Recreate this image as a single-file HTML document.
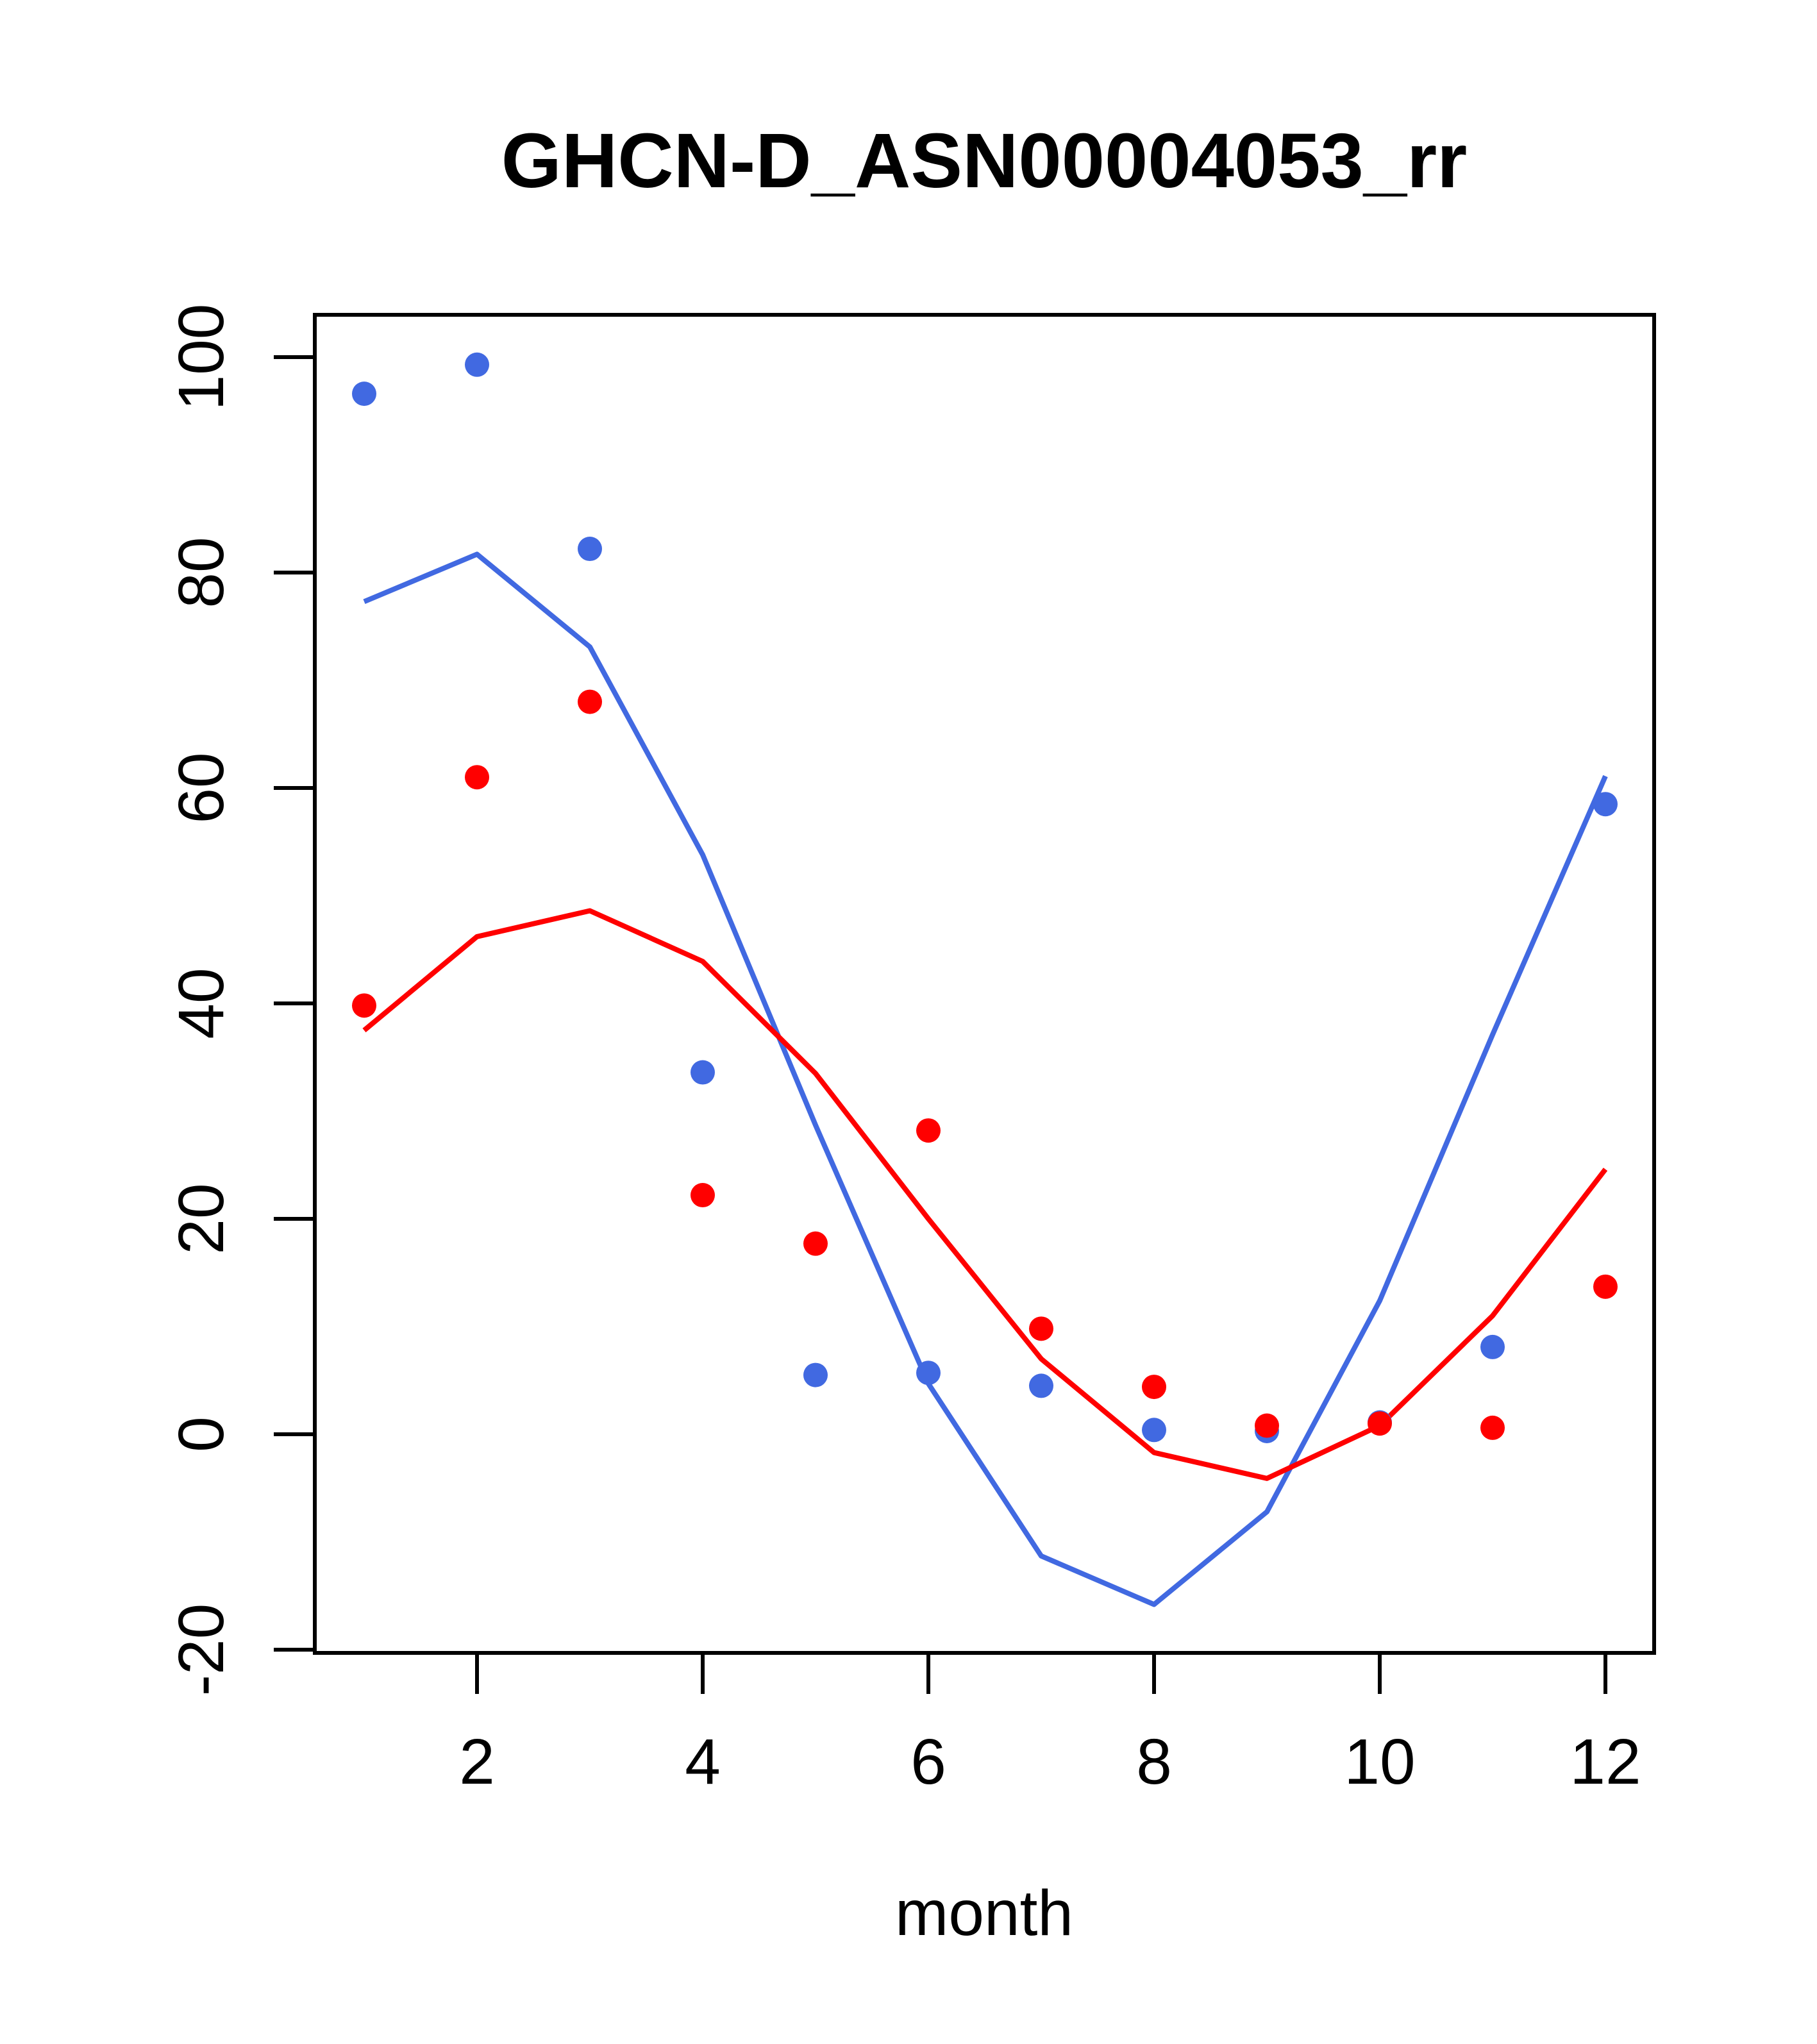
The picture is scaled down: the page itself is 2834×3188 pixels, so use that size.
<!DOCTYPE html>
<html><head><meta charset="utf-8"><style>body{margin:0;background:#fff}svg{display:block}</style></head>
<body>
<svg id="chart" width="2834" height="3188" xmlns="http://www.w3.org/2000/svg" font-family="Liberation Sans, Arial, sans-serif">
<rect width="2834" height="3188" fill="#fff"/>
<text x="1535" y="292" font-size="121" font-weight="bold" text-anchor="middle">GHCN-D_ASN00004053_rr</text>
<g id="marks"></g>
<rect x="491" y="491" width="2089" height="2087" fill="none" stroke="#000" stroke-width="6"/>
<g id="axes"></g>
<text x="1535" y="3018" font-size="100" text-anchor="middle">month</text>
</svg>
<script>
const months = [1,2,3,4,5,6,7,8,9,10,11,12];
const bluePoints = [96.6,99.3,82.2,33.6,5.5,5.7,4.5,0.4,0.3,1.1,8.1,58.5];
const redPoints = [39.8,61,68,22.2,17.7,28.2,9.8,4.4,0.8,1.0,0.6,13.7];
const blueLine = [77.3,81.7,73.1,53.8,28.7,4.7,-11.3,-15.8,-7.2,12.4,37.1,61.1];
const redLine = [37.5,46.2,48.6,43.9,33.5,20,7,-1.7,-4.1,0.8,11,24.6];
const xTicks = [2,4,6,8,10,12];
const yTicks = [-20,0,20,40,60,80,100];

const NS = 'http://www.w3.org/2000/svg';
function xs(m){ return 744 + (m-2)*176; }
function ys(v){ return 2237 - v*16.8; }
const marks = document.getElementById('marks');
const axes = document.getElementById('axes');
function mk(tag, attrs, parent){ const e=document.createElementNS(NS,tag); for(const k in attrs) e.setAttribute(k,attrs[k]); parent.appendChild(e); return e; }

function drawLine(vals, color, name){
  const pts = vals.map((v,i)=>xs(months[i])+','+ys(v)).join(' ');
  const el = mk('polyline',{points:pts,fill:'none',stroke:color,'stroke-width':8,'stroke-linejoin':'round'},marks);
  
  
}
function drawPoints(vals, color, name){
  vals.forEach((v,i)=>{
    const c = mk('circle',{cx:xs(months[i]),cy:ys(v),r:19,fill:color},marks);
    
    
  });
}
drawLine(blueLine,'#4169E1','blue-line');
drawLine(redLine,'#FF0000','red-line');
drawPoints(bluePoints,'#4169E1','blue-point');
drawPoints(redPoints,'#FF0000','red-point');

xTicks.forEach(t=>{
  const l = mk('line',{x1:xs(t),x2:xs(t),y1:2578,y2:2642,stroke:'#000','stroke-width':6},axes);
  
  
  const tx = mk('text',{x:xs(t),y:2782,'font-size':100,'text-anchor':'middle'},axes);
  tx.textContent = t;
  
  
});
yTicks.forEach(t=>{
  const l = mk('line',{x1:427,x2:491,y1:ys(t),y2:ys(t),stroke:'#000','stroke-width':6},axes);
  
  
  const tx = mk('text',{x:0,y:0,'font-size':100,'text-anchor':'middle',transform:'translate(348,'+ys(t)+') rotate(-90)'},axes);
  tx.textContent = t;
  
  
});
</script>
</body></html>
